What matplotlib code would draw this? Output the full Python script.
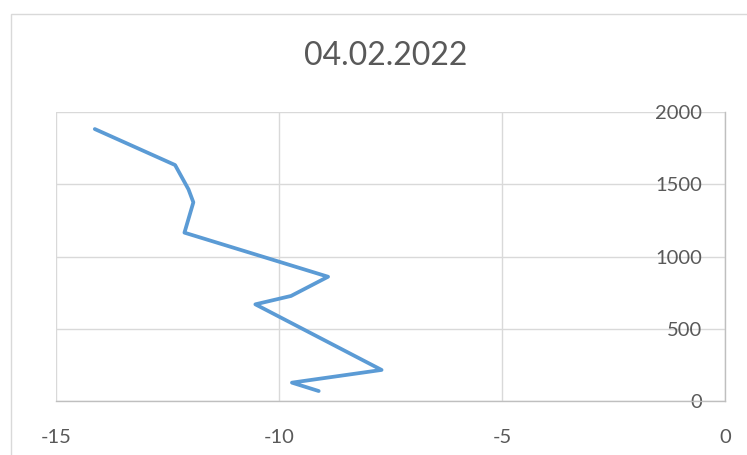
import matplotlib
matplotlib.use("Agg")
import matplotlib.pyplot as plt
from matplotlib.patches import Rectangle

# Temperature profile: temperature (°C) against altitude (m)
temperature = [-14.13, -12.33, -12.03, -11.92, -12.12, -8.90, -9.73, -10.53, -7.70, -9.71, -9.11]
altitude = [1882, 1633, 1465, 1375, 1165, 860, 727, 669, 215, 127, 69]

x_ticks = [-15, -10, -5, 0]
y_ticks = [0, 500, 1000, 1500, 2000]
title = "04.02.2022"

TEXT = "#595959"
GRID = "#D9D9D9"
AXIS = "#BFBFBF"
LINE = "#5B9BD5"

plt.rcParams["font.family"] = ["Lato", "DejaVu Sans"]

W, H = 747, 455
fig = plt.figure(figsize=(W / 100, H / 100), dpi=100)

# chart border
fig.patches.append(Rectangle((10.5 / W, -0.05), 1.05, 0.05 + 1 - 13.7 / H,
                             transform=fig.transFigure, fill=False,
                             edgecolor=GRID, linewidth=1.0))

left, right, top, bottom = 56, 725, 112, 401
ax = fig.add_axes([left / W, 1 - bottom / H, (right - left) / W, (bottom - top) / H])

ax.plot(temperature, altitude, color=LINE, linewidth=2.7, solid_capstyle="round",
        solid_joinstyle="round", zorder=3)

ax.set_xlim(-15, 0)
ax.set_ylim(0, 2000)
ax.set_xticks(x_ticks)
ax.set_yticks(y_ticks)
ax.set_xticklabels([str(v) for v in x_ticks])
ax.set_yticklabels([str(v) for v in y_ticks])

ax.grid(True, color=GRID, linewidth=1.0, zorder=0)
ax.set_axisbelow(True)
for s in ("left", "top"):
    ax.spines[s].set_visible(False)
for s in ("right", "bottom"):
    ax.spines[s].set_color(AXIS)
    ax.spines[s].set_linewidth(1.0)

ax.tick_params(axis="x", length=0, pad=20, labelsize=14.5, labelcolor=TEXT)
ax.tick_params(axis="y", length=0, left=False, right=False, labelleft=False,
               labelright=True, pad=-16.5, labelsize=14.5, labelcolor=TEXT)
for lbl in ax.get_yticklabels():
    lbl.set_horizontalalignment("right")

fig.text(386 / W, 1 - 56 / H, title, ha="center", va="center", fontsize=23, color=TEXT)

fig.savefig("out.png", dpi=100)
